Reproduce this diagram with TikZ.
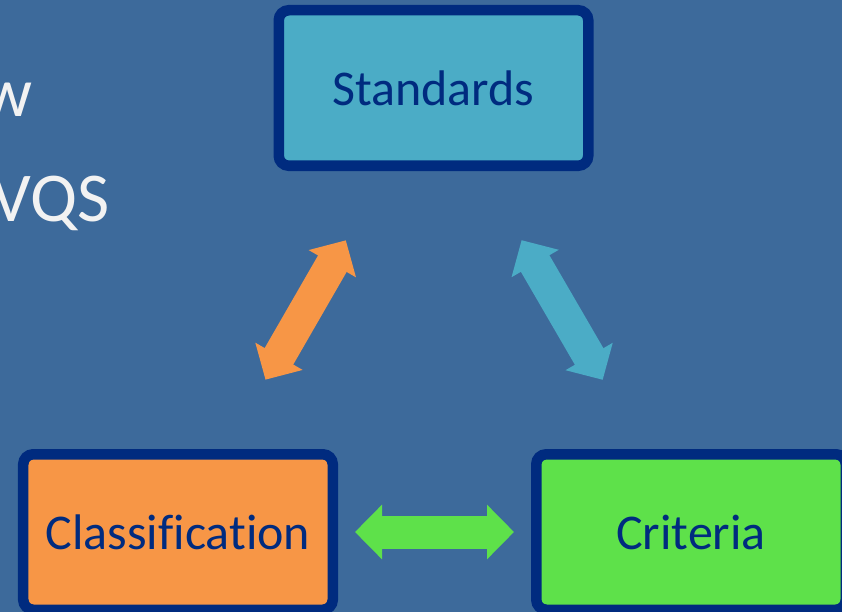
\documentclass[tikz,border=0pt]{standalone}
\usepackage{fontspec}
\setmainfont[Ligatures=NoCommon]{Carlito}
\usepackage{tikz}
\usetikzlibrary{arrows.meta}
\definecolor{slidebg}{HTML}{3D6A9B}
\definecolor{navy}{HTML}{002B7F}
\definecolor{stdfill}{HTML}{4BACC6}
\definecolor{classfill}{HTML}{F79646}
\definecolor{critfill}{HTML}{5EE14A}
\definecolor{titletext}{HTML}{F2F2F2}

\begin{document}
\begin{tikzpicture}[x=1bp,y=-1bp,
	box/.style={draw=navy, line width=10.5bp, rounded corners=10bp,
		minimum width=309.5bp, minimum height=155.5bp,
		text=navy, font=\fontsize{50bp}{60bp}\selectfont},
	link/.style={line width=33bp, shorten <=#1, shorten >=#1,
		{Triangle[length=27bp,width=53bp]}-{Triangle[length=27bp,width=53bp]}},
	title/.style={inner sep=0pt, anchor=base east, text=titletext,
		font=\fontsize{70bp}{84bp}\selectfont}]
	\useasboundingbox (0,0) rectangle (842,612);
	\clip (0,0) rectangle (842,612);
	\fill [slidebg] (0,0) rectangle (842,612);
	% slide title, cut at the left edge
	\node [title] (line1) at (33,117) {w};
	\node [title] (line2) at (110,222) {VQS};
	% the three boxes
	\node [box, fill=stdfill] (std) at (433.5,88) {Standards};
	\node [box, fill=classfill] (class) at (178,532) {Classification};
	\node [box, fill=critfill] (crit) at (691,532) {Criteria};
	% double arrows
	\draw [link=80bp, classfill] (class) -- (std);
	\draw [link=80bp, stdfill] (std) -- (crit);
	\draw [link=17bp, critfill] (class) -- (crit);
\end{tikzpicture}
\end{document}
